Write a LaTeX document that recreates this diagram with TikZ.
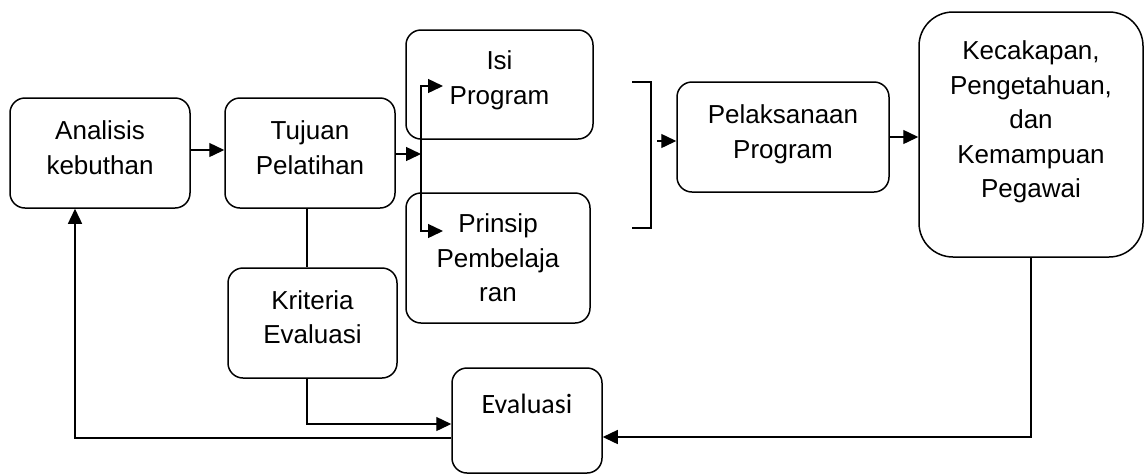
\documentclass[tikz,border=0pt]{standalone}
\usepackage{fontspec}
\setmainfont{Liberation Sans}
\newfontfamily\calib{Carlito}
\usetikzlibrary{arrows.meta}
\begin{document}
\begin{tikzpicture}[x=1pt,y=-1pt,
  box/.style={draw, line width=1.5pt, rounded corners=15pt, align=center, inner sep=0pt,
              font=\fontsize{26}{34.5}\selectfont},
  arr/.style={line width=1.4pt, -{Triangle[length=15pt,width=14pt]}},
  ln/.style={line width=1.4pt}]
\useasboundingbox (0,0) rectangle (1145,475);
% boxes
\node[box, minimum width=180pt, minimum height=110pt, text depth=11pt] (an) at (100,153) {Analisis\\kebuthan};
\node[box, minimum width=170pt, minimum height=110pt, text depth=11pt] (tu) at (310,153) {Tujuan\\Pelatihan};
\node[box, minimum width=187pt, minimum height=109pt, text depth=14pt] (isi) at (499.5,84.5) {Isi\\Program};
\node[box, minimum width=184pt, minimum height=130pt] (pr) at (498,258) {Prinsip\\Pembelaja\\ran};
\node[box, minimum width=169pt, minimum height=110pt, text depth=12pt] (kr) at (312.5,323) {Kriteria\\Evaluasi};
\node[box, minimum width=150pt, minimum height=105pt, text depth=34pt,
      font=\calib\fontsize{28}{34}\selectfont] (ev) at (527,420.5) {Evaluasi};
\node[box, minimum width=212pt, minimum height=110pt, text depth=11pt] (pl) at (783,137) {Pelaksanaan\\Program};
\node[box, rounded corners=34pt, minimum width=224pt, minimum height=245pt, text depth=30pt] (ke) at (1031,134.5)
  {Kecakapan,\\Pengetahuan,\\dan\\Kemampuan\\Pegawai};
% branch to Isi / Prinsip
\coordinate (sp) at (421,154);
\coordinate (it) at (443,86);
\coordinate (pt) at (443,231);
\draw[arr] ([yshift=3pt]an.east) -- ([yshift=3pt]tu.west);
\draw[arr] ([yshift=-1pt]tu.east) -- (sp);
\draw[arr] (sp) |- (it);
\draw[arr] (sp) |- (pt);
% bracket
\coordinate (b1) at (632,82);
\coordinate (b2) at (651,82);
\coordinate (b3) at (651,228);
\coordinate (b4) at (632,228);
\draw[ln] (b1) -- (b2) -- (b3) -- (b4);
\coordinate (bm) at (657,141);
\draw[arr] (bm) -- (bm -| pl.west);
\draw[arr] (pl.east) -- (pl.east -| ke.west);
% Tujuan - Kriteria
\draw[ln] ([xshift=-3pt]tu.south) -- ([xshift=-3pt]tu.south |- kr.north);
% Kriteria -> Evaluasi
\draw[arr] ([xshift=-5.5pt]kr.south) |- ([yshift=-3.5pt]ev.west);
% Evaluasi -> Analisis
\draw[arr] ([yshift=-17.5pt]ev.west) -| ([xshift=-25pt]an.south);
% Kecakapan -> Evaluasi
\draw[arr] (ke.south) |- ([yshift=-16.5pt]ev.east);
\end{tikzpicture}
\end{document}
